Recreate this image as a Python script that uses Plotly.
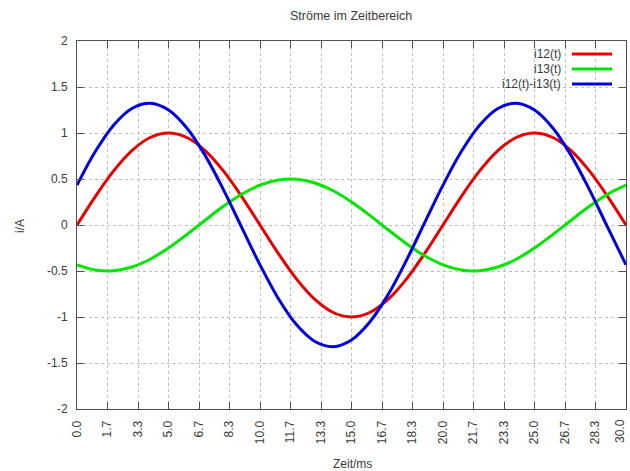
import numpy as np
import plotly.graph_objects as go

# time samples (ms)
t_ms = list(range(0, 31))
# values (A)
i12 = [0.0, 0.309, 0.588, 0.809, 0.951, 1.0, 0.951, 0.809, 0.588, 0.309,
       0.0, -0.309, -0.588, -0.809, -0.951, -1.0, -0.951, -0.809, -0.588, -0.309,
       0.0, 0.309, 0.588, 0.809, 0.951, 1.0, 0.951, 0.809, 0.588, 0.309, 0.0]
i13 = [-0.433, -0.489, -0.497, -0.457, -0.372, -0.25, -0.104, 0.052, 0.203, 0.335,
       0.433, 0.489, 0.497, 0.457, 0.372, 0.25, 0.104, -0.052, -0.203, -0.335,
       -0.433, -0.489, -0.497, -0.457, -0.372, -0.25, -0.104, 0.052, 0.203, 0.335, 0.433]
i12_i13 = [0.433, 0.798, 1.085, 1.266, 1.323, 1.25, 1.055, 0.757, 0.385, -0.026,
           -0.433, -0.798, -1.085, -1.266, -1.323, -1.25, -1.055, -0.757, -0.385, 0.026,
           0.433, 0.798, 1.085, 1.266, 1.323, 1.25, 1.055, 0.757, 0.385, -0.026, -0.433]

x_tick_labels = ["0.0", "1.7", "3.3", "5.0", "6.7", "8.3", "10.0", "11.7", "13.3", "15.0",
                 "16.7", "18.3", "20.0", "21.7", "23.3", "25.0", "26.7", "28.3", "30.0"]
y_tick_vals = [-2, -1.5, -1, -0.5, 0, 0.5, 1, 1.5, 2]
y_tick_labels = ["-2", "-1.5", "-1", "-0.5", "0", "0.5", "1", "1.5", "2"]

series_names = ["i12(t)", "i13(t)", "i12(t)-i13(t)"]
series_values = [i12, i13, i12_i13]
colors = ["#e60000", "#00e600", "#0000dd"]

FONT = "Liberation Sans, Arial, sans-serif"
TXT = "#3a3a3a"
FRAME = "#505050"

fig = go.Figure()
for name, vals, c in zip(series_names, series_values, colors):
    fig.add_trace(go.Scatter(x=t_ms, y=vals, mode="lines", name=name,
                             line=dict(color=c, width=3, shape="spline"),
                             showlegend=False))

L, R, T, B = 77, 4, 41, 62
W, H = 630, 471
pw, ph = W - L - R, H - T - B

def px_x(p):
    return (p - L) / pw

def px_y(p):
    return (H - B - p) / ph

shapes = [
    # white legend background covering the grid
    dict(type="rect", xref="paper", yref="paper", layer="between",
         x0=px_x(460), x1=1, y0=px_y(93), y1=1,
         fillcolor="white", line=dict(width=0)),
]
annotations = []
rows = [54, 69, 84]
for name, c, ry in zip(series_names, colors, rows):
    annotations.append(dict(xref="paper", yref="paper", x=px_x(563), y=px_y(ry),
                            text=name, showarrow=False, xanchor="right", yanchor="middle",
                            font=dict(family=FONT, size=12, color=TXT)))
    shapes.append(dict(type="line", xref="paper", yref="paper", layer="above",
                       x0=px_x(572), x1=px_x(612), y0=px_y(ry), y1=px_y(ry),
                       line=dict(color=c, width=3)))

annotations.append(dict(xref="paper", yref="paper", x=px_x(352), y=px_y(464),
                        text="Zeit/ms", showarrow=False, xanchor="center", yanchor="middle",
                        font=dict(family=FONT, size=12, color=TXT)))
annotations.append(dict(xref="paper", yref="paper", x=px_x(20), y=px_y(226),
                        text="i/A", showarrow=False, textangle=-90,
                        xanchor="center", yanchor="middle",
                        font=dict(family=FONT, size=12, color=TXT)))
annotations.append(dict(xref="paper", yref="paper", x=px_x(351), y=px_y(16),
                        text="Ströme im Zeitbereich", showarrow=False,
                        xanchor="center", yanchor="middle",
                        font=dict(family=FONT, size=12.5, color=TXT)))
# last x tick label, shifted left so it stays inside the picture (as in the reference)
annotations.append(dict(xref="paper", yref="paper", x=px_x(620), y=px_y(417),
                        text=x_tick_labels[-1], showarrow=False, textangle=-90,
                        xanchor="center", yanchor="top",
                        font=dict(family=FONT, size=12, color=TXT)))

axis_common = dict(
    showline=True, linecolor=FRAME, linewidth=1, mirror="allticks",
    ticks="inside", ticklen=7, tickcolor=FRAME, tickwidth=1,
    showgrid=True, gridcolor="#bdbdbd", griddash="dot", gridwidth=1,
    zeroline=False, tickfont=dict(family=FONT, size=12, color=TXT),
)

fig.update_layout(
    width=W, height=H,
    margin=dict(l=L, r=R, t=T, b=B, autoexpand=False),
    paper_bgcolor="white", plot_bgcolor="white",
    shapes=shapes, annotations=annotations,
    xaxis=dict(range=[0, 30], tickmode="array",
               tickvals=list(np.linspace(0, 30, len(x_tick_labels))),
               ticktext=x_tick_labels[:-1] + [""], tickangle=-90, ticklabelstandoff=6,
               **axis_common),
    yaxis=dict(range=[-2, 2], tickmode="array", tickvals=y_tick_vals,
               ticktext=y_tick_labels, ticklabelstandoff=6, **axis_common),
)

fig.write_html("out.html",
               config={"displayModeBar": False},
               post_script="document.body.style.margin='0';document.body.style.overflow='hidden';")
